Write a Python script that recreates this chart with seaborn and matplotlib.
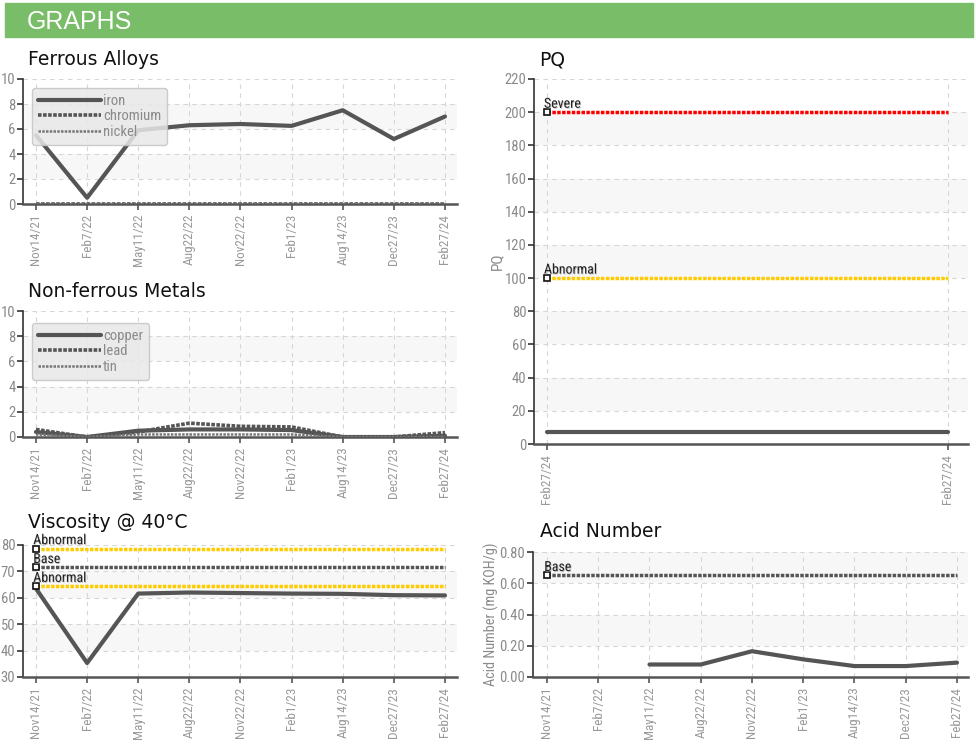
import numpy as np
import pandas as pd
import matplotlib
matplotlib.use("Agg")
import matplotlib.pyplot as plt
import seaborn as sns
from matplotlib import font_manager as fm
from matplotlib.patches import Rectangle
import matplotlib.patheffects as pe

# ---------------- data ----------------
dates = ["Nov14/21", "Feb7/22", "May11/22", "Aug22/22", "Nov22/22",
         "Feb1/23", "Aug14/23", "Dec27/23", "Feb27/24"]
iron = [5.5, 0.5, 5.9, 6.3, 6.4, 6.25, 7.5, 5.2, 7.0]
chromium = [0, 0, 0, 0, 0, 0, 0, 0, 0]
nickel = [0, 0, 0, 0, 0, 0, 0, 0, 0]
copper = [0.4, 0.0, 0.5, 0.6, 0.6, 0.55, 0.0, 0.0, 0.1]
lead = [0.6, 0.0, 0.4, 1.1, 0.85, 0.8, 0.0, 0.0, 0.35]
tin = [0.2, 0.0, 0.2, 0.2, 0.2, 0.2, 0.0, 0.0, 0.0]
viscosity = [63.5, 35.3, 61.6, 62.0, 61.8, 61.6, 61.5, 61.0, 60.9]
visc_abnormal_high = 78.65
visc_base = 71.5
visc_abnormal_low = 64.35
pq_dates = ["Feb27/24", "Feb27/24"]
pq = [7, 7]
pq_severe = 200
pq_abnormal = 100
acid = [np.nan, np.nan, 0.08, 0.08, 0.165, 0.113, 0.07, 0.07, 0.092]
acid_base = 0.65

# ---------------- fonts ----------------
sns.set_theme(style="white")
names = {f.name for f in fm.fontManager.ttflist}
narrow = "Roboto Condensed" if "Roboto Condensed" in names else None
cond_family = [narrow, "DejaVu Sans"] if narrow else ["DejaVu Sans"]
cond_stretch = "normal" if narrow else "condensed"
plt.rcParams["font.family"] = ["DejaVu Sans"]

W, H = 976, 744
fig = plt.figure(figsize=(W / 100, H / 100), dpi=100)

DARK = "#555555"
GRID = "#d6d6d6"
BAND = "#f7f7f7"
LW = 3.0


def px_axes(x0, y0, x1, y1):
    return fig.add_axes([x0 / W, 1 - y1 / H, (x1 - x0) / W, (y1 - y0) / H])


def style(ax, labels, xlim, ylim, yticks, yfmt="{:g}"):
    ax.set_xlim(*xlim)
    ax.set_ylim(*ylim)
    for i in range(len(yticks) - 1):
        if i % 2 == 1:
            ax.axhspan(yticks[i], yticks[i + 1], color=BAND, zorder=0, lw=0)
    ax.set_xticks(range(len(labels)))
    ax.set_xticklabels(labels, rotation=90, family=cond_family,
                       stretch=cond_stretch, fontsize=9.5, color="#9a9a9a")
    ax.set_yticks(yticks)
    ax.set_yticklabels([yfmt.format(v) for v in yticks], family=cond_family,
                       stretch=cond_stretch, fontsize=10.5, color="#8a8a8a")
    ax.grid(True, ls=(0, (4, 4)), color=GRID, lw=0.8, zorder=1)
    ax.set_axisbelow(True)
    for s in ["top", "right"]:
        ax.spines[s].set_visible(False)
    ax.spines["left"].set_color("#333333")
    ax.spines["left"].set_linewidth(1.2)
    ax.spines["bottom"].set_color("#555555")
    ax.spines["bottom"].set_linewidth(1.8)
    ax.tick_params(axis="y", length=4, width=1.2, color="#333333", pad=1.5, left=True)
    ax.tick_params(axis="x", length=4, width=1.2, color="#555555", pad=3, bottom=True)
    ax.set_xlabel("")
    ax.set_ylabel("")


def limit_line(ax, n, value, color, label):
    sns.lineplot(x=np.arange(n), y=np.full(n, value), ax=ax, color=color,
                 lw=2.5, ls=(0, (1, 0.4)), zorder=4, legend=False)
    ax.plot(0, value, marker="s", ms=5, mfc="white", mec="#111111", mew=1.2,
            zorder=6, clip_on=False)
    ax.annotate(label, (0, value), xytext=(-2, 3.2), textcoords="offset points",
                ha="left", va="baseline", fontsize=10, color="#222222",
                family=cond_family, stretch=cond_stretch, zorder=7,
                path_effects=[pe.withSimplePatchShadow(offset=(0.6, -0.6),
                                                      shadow_rgbFace="#999999", alpha=0.6)])


def legend(ax, x, y):
    leg = ax.legend(loc="upper left", bbox_to_anchor=(x, y), frameon=True,
                    fancybox=True, facecolor="#e8e8e8", edgecolor="#c4c4c4",
                    framealpha=0.85, handlelength=4.3, handletextpad=0.15,
                    labelspacing=0.1, borderpad=0.4, borderaxespad=0,
                    prop={"family": cond_family, "stretch": cond_stretch, "size": 10.5})
    for t in leg.get_texts():
        t.set_color("#8a8a8a")
    leg.set_zorder(10)


n = len(dates)
idx = np.arange(n)
left_xlim = (-0.254, 8.235)

# ---------------- header ----------------
fig.patches.append(Rectangle((5 / W, 1 - 37 / H), 968 / W, 34 / H,
                             transform=fig.transFigure, color="#79bd69", zorder=0))
fig.text(27 / W, 1 - 29 / H, "GRAPHS", color="white", fontsize=18,
         family=["Liberation Sans", "DejaVu Sans"], va="baseline", ha="left")

title_kw = dict(fontsize=13.5, color="#111111", va="baseline", ha="left",
                family=["DejaVu Sans"])

# ---------------- Ferrous Alloys ----------------
ax1 = px_axes(23, 79, 457, 204)
sns.lineplot(x=idx, y=iron, ax=ax1, color=DARK, lw=LW, label="iron", zorder=5)
sns.lineplot(x=idx, y=chromium, ax=ax1, color=DARK, lw=2.6, ls=(0, (1, 0.4)),
             label="chromium", zorder=5)
sns.lineplot(x=idx, y=nickel, ax=ax1, color="#777777", lw=1.8, ls=(0, (1, 0.5)),
             label="nickel", zorder=5)
style(ax1, dates, left_xlim, (0, 10), [0, 2, 4, 6, 8, 10])
legend(ax1, 0.021, 0.928)
fig.text(28 / W, 1 - 65 / H, "Ferrous Alloys", **title_kw)

# ---------------- Non-ferrous Metals ----------------
ax2 = px_axes(23, 311, 457, 437)
sns.lineplot(x=idx, y=copper, ax=ax2, color=DARK, lw=LW, label="copper", zorder=5)
sns.lineplot(x=idx, y=lead, ax=ax2, color=DARK, lw=2.6, ls=(0, (1, 0.4)),
             label="lead", zorder=5)
sns.lineplot(x=idx, y=tin, ax=ax2, color="#777777", lw=1.8, ls=(0, (1, 0.5)),
             label="tin", zorder=5)
style(ax2, dates, left_xlim, (0, 10), [0, 2, 4, 6, 8, 10])
legend(ax2, 0.021, 0.905)
fig.text(28 / W, 1 - 297 / H, "Non-ferrous Metals", **title_kw)

# ---------------- Viscosity ----------------
ax3 = px_axes(23, 545, 457, 677)
sns.lineplot(x=idx, y=viscosity, ax=ax3, color=DARK, lw=LW, zorder=5, legend=False)
limit_line(ax3, n, visc_abnormal_high, "#ffcc00", "Abnormal")
limit_line(ax3, n, visc_base, DARK, "Base")
limit_line(ax3, n, visc_abnormal_low, "#ffcc00", "Abnormal")
style(ax3, dates, left_xlim, (30, 80), [30, 40, 50, 60, 70, 80])
fig.text(28 / W, 1 - 528 / H, "Viscosity @ 40°C", **title_kw)

# ---------------- PQ ----------------
ax4 = px_axes(534, 79, 968, 444)
m = len(pq_dates)
sns.lineplot(x=np.arange(m), y=pq, ax=ax4, color=DARK, lw=LW, zorder=5, legend=False)
limit_line(ax4, m, pq_severe, "#ff0000", "Severe")
limit_line(ax4, m, pq_abnormal, "#ffcc00", "Abnormal")
style(ax4, pq_dates, (-0.0317, 1.051), (0, 220), list(range(0, 221, 20)))
ax4.set_ylabel("PQ", family=cond_family, stretch=cond_stretch, fontsize=11,
               color="#8a8a8a", labelpad=0)
fig.text(539 / W, 1 - 65 / H, "PQ", **title_kw)

# ---------------- Acid Number ----------------
ax5 = px_axes(533, 552, 968, 677)
sns.lineplot(x=idx, y=acid, ax=ax5, color=DARK, lw=LW, zorder=5, legend=False)
limit_line(ax5, n, acid_base, DARK, "Base")
style(ax5, dates, (-0.273, 8.215), (0, 0.8), [0, 0.2, 0.4, 0.6, 0.8], "{:.2f}")
ax5.set_ylabel("Acid Number (mg KOH/g)", family=cond_family, stretch=cond_stretch,
               fontsize=10.3, color="#8a8a8a", labelpad=0)
fig.text(540 / W, 1 - 537 / H, "Acid Number", **title_kw)

fig.savefig("out.png", dpi=100)
